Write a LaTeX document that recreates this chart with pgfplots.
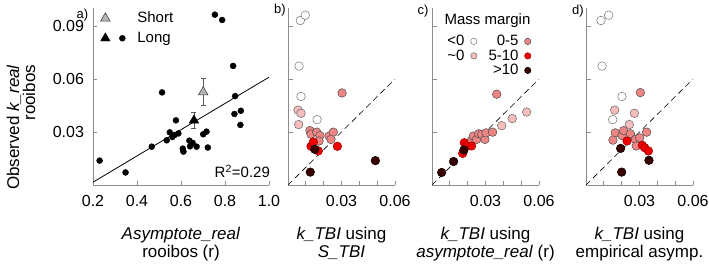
\documentclass[border=0pt]{standalone}
\usepackage{fontspec}
\setmainfont{Liberation Sans}
\usepackage{pgfplots}
\pgfplotsset{compat=1.18}
\definecolor{lpink}{HTML}{F6BDBD}
\definecolor{salmon}{HTML}{EE8585}
\definecolor{mred}{HTML}{EE0000}
\definecolor{dred}{HTML}{3A0000}
\definecolor{axgray}{HTML}{8C8C8C}
\definecolor{trigray}{HTML}{B4B4B4}
\pgfplotsset{
 base/.style={scale only axis, height=176.7pt, ymin=0, ymax=0.1,
   axis x line=bottom, axis y line=left,
   axis line style={-, draw=axgray, line width=0.8pt},
   tick align=inside, major tick length=4.5pt,
   tick style={axgray, line width=0.8pt},
   scaled x ticks=false, scaled y ticks=false,
   clip=false, ytick={0.03,0.06,0.09},
   ticklabel style={font=\fontsize{16}{18}\selectfont},
   xticklabel style={yshift=-6.5pt},
   yticklabel style={xshift=-5.5pt},
   xlabel style={at={(axis description cs:0.5,0)}, anchor=north, yshift=-39pt,
     align=center, font=\fontsize{17}{18}\selectfont}},
 narrow/.style={base, width=107pt, xmin=0, xmax=0.06,
   xtick={0,0.01,0.02,0.03,0.04,0.05,0.06}, xticklabels={,,,0.03,,,0.06},
   yticklabels={}},
 wdot/.style={only marks, mark=*, mark size=4.3pt, mark options={fill=white, draw=gray!90!black, line width=0.5pt}},
 ldot/.style={only marks, mark=*, mark size=4.3pt, mark options={fill=lpink, draw=gray!80!black, line width=0.5pt}},
 sdot/.style={only marks, mark=*, mark size=4.3pt, mark options={fill=salmon, draw=gray!60!black, line width=0.5pt}},
 rdot/.style={only marks, mark=*, mark size=4.3pt, mark options={fill=mred, draw=red!60!black, line width=0.5pt}},
 ddot/.style={only marks, mark=*, mark size=4.3pt, mark options={fill=dred, draw=black, line width=0.5pt}},
 oneone/.style={black, line width=0.6pt, dash pattern=on 6pt off 4pt},
}
\begin{document}
\begin{tikzpicture}
\useasboundingbox (0,0) rectangle (709pt,269pt);
% ---------------- panel a
\begin{axis}[base, at={(93pt,84pt)}, anchor=south west, width=176pt,
  xmin=0.2, xmax=1.0, xtick={0.2,0.4,0.6,0.8,1.0}, xticklabels={0.2,0.4,0.6,0.8,1.0},
  yticklabels={0.03,0.06,0.09},
  xlabel={\textit{Asymptote\_real}\\rooibos (r)},
  ylabel={Observed \textit{k\_real}\\rooibos},
  ylabel style={at={(axis description cs:-0.409,0.70)}, anchor=east, align=right,
     font=\fontsize{17}{16}\selectfont},
  legend style={at={(rel axis cs:0.035,0.99)}, anchor=north west, draw=none, fill=none,
     inner sep=0pt, font=\fontsize{15}{17}\selectfont,
     nodes={inner sep=1pt, text height=11pt, text depth=3pt}, row sep=4pt, column sep=10pt},
  legend cell align=left]
\addlegendimage{legend image code/.code={\path[draw=none,fill=none] (0pt,-4pt) rectangle (27pt,4pt);
  \draw[only marks, mark=triangle*, mark size=5.5pt, mark options={fill=trigray, draw=gray!40!black, line width=0.5pt}] plot coordinates {(6pt,0pt)};}}
\addlegendentry{Short}
\addlegendimage{legend image code/.code={\path[draw=none,fill=none] (0pt,-4pt) rectangle (27pt,4pt);
  \draw[only marks, mark=triangle*, mark size=5.5pt, mark options={fill=black, draw=black}] plot coordinates {(6pt,0pt)};
  \draw[only marks, mark=*, mark size=3pt, mark options={fill=black, draw=black}] plot coordinates {(23pt,0pt)};}}
\addlegendentry{Long}
\addplot[forget plot, black, line width=0.8pt] coordinates {(0.2,0.0016) (1.0,0.061)};
\addplot[forget plot, only marks, mark=*, mark size=3pt, mark options={fill=black, draw=black}] coordinates {
(0.230,0.0138) (0.348,0.0071) (0.467,0.0217) (0.514,0.0524) (0.535,0.0253)
(0.549,0.0298) (0.561,0.0272) (0.571,0.0283) (0.577,0.0366) (0.588,0.0292)
(0.608,0.0206) (0.611,0.0189) (0.638,0.0251) (0.653,0.0238) (0.641,0.0219)
(0.671,0.0217) (0.701,0.0287) (0.716,0.0302) (0.722,0.0212) (0.754,0.0964)
(0.787,0.0934) (0.837,0.0674) (0.846,0.0503) (0.843,0.0402) (0.872,0.0420)
(0.870,0.0340)};
\addplot[forget plot, only marks, mark=triangle*, mark size=5.5pt,
  mark options={fill=trigray, draw=gray!40!black, line width=0.5pt},
  error bars/.cd, y dir=both, y explicit,
  error bar style={gray!70!black, line width=0.6pt},
  error mark options={rotate=90, gray!70!black, mark size=2.5pt, line width=0.6pt}]
  coordinates {(0.701,0.0526) +- (0,0.0076)};
\addplot[forget plot, only marks, mark=triangle*, mark size=5.5pt,
  mark options={fill=black, draw=black},
  error bars/.cd, y dir=both, y explicit,
  error bar style={gray!70!black, line width=0.6pt},
  error mark options={rotate=90, gray!70!black, mark size=2.5pt, line width=0.6pt}]
  coordinates {(0.659,0.0366) +- (0,0.0043)};
\node[anchor=base east, font=\fontsize{15}{17}\selectfont] at (axis cs:1.02,0.004) {R\textsuperscript{2}=0.29};
\end{axis}
% ---------------- panel b
\begin{axis}[narrow, at={(288pt,84pt)}, anchor=south west,
  xlabel={\textit{k\_TBI} using\\\textit{S\_TBI}}]
\addplot[oneone] coordinates {(0,0) (0.06,0.06)};
\addplot[wdot] coordinates {(0.0069,0.0931) (0.0097,0.0961) (0.0062,0.0673) (0.0073,0.0501) (0.0163,0.0370)};
\addplot[ldot] coordinates {(0.0056,0.0424) (0.0073,0.0406) (0.0060,0.0342)};
\addplot[sdot] coordinates {(0.0303,0.0521) (0.0123,0.0308) (0.0129,0.0288) (0.0161,0.0299) (0.0179,0.0280) (0.0174,0.0249) (0.0230,0.0277) (0.0254,0.0299) (0.0241,0.0258)};
\addplot[rdot] coordinates {(0.0129,0.0219) (0.0142,0.0243) (0.0170,0.0193) (0.0277,0.0219)};
\addplot[ddot] coordinates {(0.0150,0.0202) (0.0125,0.0073) (0.0490,0.0138)};
\end{axis}
% ---------------- panel c
\begin{axis}[narrow, at={(432pt,84pt)}, anchor=south west,
  xlabel={\textit{k\_TBI} using\\\textit{asymptote\_real} (r)},
  legend columns=2, legend plot pos=right, legend cell align=right,
  legend style={at={(axis cs:0.0556,0.0852)}, anchor=north east, draw=none, fill=none,
     inner sep=0pt, font=\fontsize{15}{17}\selectfont,
     nodes={inner sep=0.5pt, text height=10.5pt, text depth=2pt}, row sep=1pt,
     column sep=5.5pt, /tikz/every even column/.append style={column sep=11pt}},
  legend image code/.code={\draw[#1] plot coordinates {(3.3pt,0pt)};},
  legend image post style={mark size=3.2pt}]
\addlegendimage{wdot}\addlegendentry{<0}
\addlegendimage{sdot}\addlegendentry{0-5}
\addlegendimage{ldot}\addlegendentry{\textasciitilde 0}
\addlegendimage{rdot}\addlegendentry{5-10}
\addlegendimage{empty legend}\addlegendentry{}
\addlegendimage{ddot}\addlegendentry{>10}
\addplot[forget plot, oneone] coordinates {(0,0) (0.06,0.06)};
\addplot[forget plot, ldot] coordinates {(0.0391,0.0336) (0.0450,0.0376) (0.0531,0.0413)};
\addplot[forget plot, sdot] coordinates {(0.0363,0.0514) (0.0220,0.0250) (0.0232,0.0277) (0.0250,0.0258) (0.0262,0.0290) (0.0279,0.0286) (0.0297,0.0258) (0.0303,0.0295) (0.0340,0.0299)};
\addplot[forget plot, rdot] coordinates {(0.0181,0.0239) (0.0194,0.0221) (0.0172,0.0179) (0.0222,0.0221)};
\addplot[forget plot, ddot] coordinates {(0.0179,0.0198) (0.0121,0.0133) (0.0054,0.0071)};
\node[anchor=base, font=\fontsize{15}{17}\selectfont] at (axis cs:0.0311,0.0911) {Mass margin};
\end{axis}
% ---------------- panel d
\begin{axis}[narrow, at={(586pt,84pt)}, anchor=south west,
  xlabel={\textit{k\_TBI} using\\empirical asymp.}]
\addplot[oneone] coordinates {(0,0) (0.06,0.06)};
\addplot[wdot] coordinates {(0.0084,0.0931) (0.0127,0.0961) (0.0090,0.0673) (0.0202,0.0501) (0.0150,0.0370)};
\addplot[ldot] coordinates {(0.0161,0.0424) (0.0271,0.0406) (0.0243,0.0342)};
\addplot[sdot] coordinates {(0.0305,0.0523) (0.0164,0.0295) (0.0151,0.0254) (0.0202,0.0280) (0.0211,0.0308) (0.0249,0.0290) (0.0277,0.0258) (0.0301,0.0267) (0.0282,0.0221) (0.0340,0.0299)};
\addplot[rdot] coordinates {(0.0230,0.0249) (0.0316,0.0224) (0.0329,0.0211) (0.0350,0.0193)};
\addplot[ddot] coordinates {(0.0194,0.0207) (0.0353,0.0140) (0.0200,0.0073)};
\end{axis}
\node[inner sep=1pt, font=\fontsize{13}{15}\selectfont] at (82.5pt,254pt) {a)};
\node[inner sep=1pt, font=\fontsize{13}{15}\selectfont] at (280pt,259pt) {b)};
\node[inner sep=1pt, font=\fontsize{13}{15}\selectfont] at (423pt,258pt) {c)};
\node[inner sep=1pt, font=\fontsize{13}{15}\selectfont] at (578pt,258pt) {d)};
\end{tikzpicture}
\end{document}
